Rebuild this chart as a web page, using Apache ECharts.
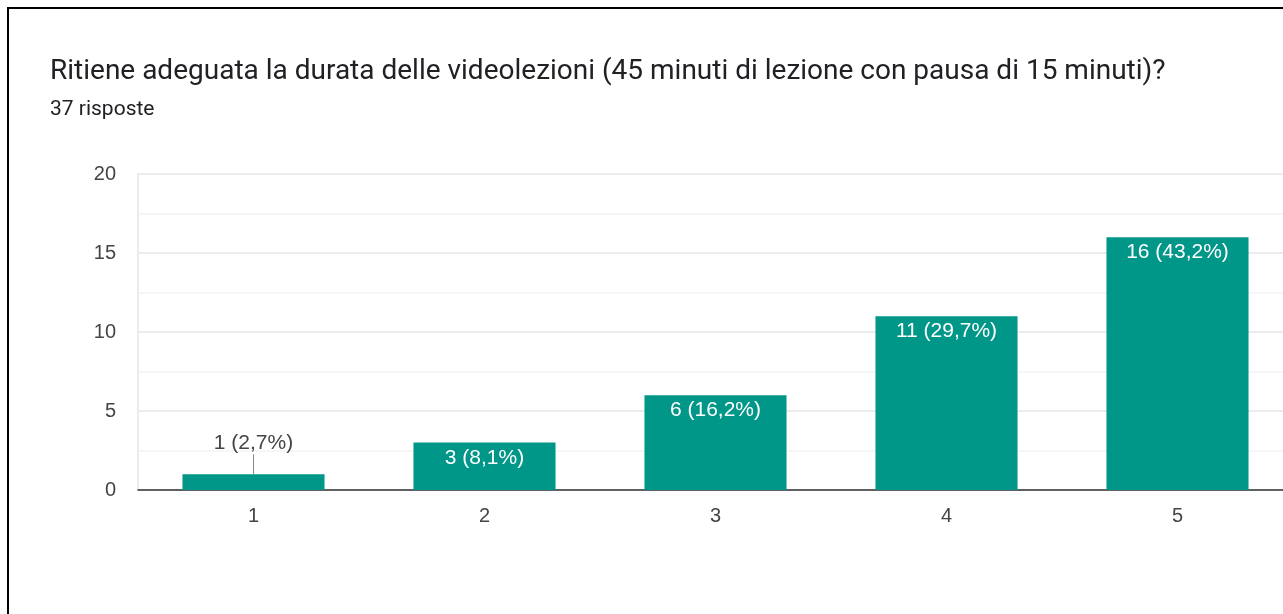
<!DOCTYPE html>
<html>
<head>
<meta charset="utf-8">
<script src="https://cdn.jsdelivr.net/npm/echarts@6/dist/echarts.min.js"></script>
<style>
	html, body { margin: 0; padding: 0; background: #fff; overflow: hidden; width: 1283px; height: 614px; }
	#chart { position: absolute; left: 0; top: 0; width: 1400px; height: 614px; }
	#frame { position: absolute; left: 7px; top: 7px; width: 1400px; height: 700px; border-left: 2px solid #000; border-top: 2px solid #000; pointer-events: none; }
</style>
</head>
<body>
<div id="chart"></div>
<div id="frame"></div>
<script>
// dati del grafico
const categorie = ["1", "2", "3", "4", "5"];
const risposte = [1, 3, 6, 11, 16];
const percentuali = ["2,7%", "8,1%", "16,2%", "29,7%", "43,2%"];
const totale = 37;

const myChart = echarts.init(document.getElementById("chart"));

const datiBarre = risposte.map((v, i) => {
	if (v < 2) {
		// barra troppo bassa: etichetta sopra con linea guida
		return {
			value: v,
			label: { position: "top", distance: 4, color: "#444" },
		};
	}
	return v;
});

const option = {
	animation: false,
	title: [
		{
			text: "Ritiene adeguata la durata delle videolezioni (45 minuti di lezione con pausa di 15 minuti)?",
			left: 45,
			top: 53,
			textStyle: { fontFamily: "Roboto", fontSize: 28, fontWeight: "normal", color: "#202124" },
		},
		{
			text: totale + " risposte",
			left: 45,
			top: 94,
			textStyle: { fontFamily: "Roboto", fontSize: 21, fontWeight: "normal", color: "#202124" },
		},
	],
	grid: { left: 138, top: 174, bottom: 124, right: 107 },
	xAxis: {
		type: "category",
		data: categorie,
		axisTick: { show: false },
		axisLine: { lineStyle: { color: "#333", width: 1.5 } },
		axisLabel: { fontFamily: "Arial", fontSize: 20, color: "#444", margin: 16 },
	},
	yAxis: {
		type: "value",
		min: 0,
		max: 20,
		interval: 5,
		axisLine: { show: true, lineStyle: { color: "#e6e6e6", width: 1.5 } },
		axisLabel: { fontFamily: "Arial", fontSize: 20, color: "#444", margin: 22 },
		splitLine: { lineStyle: { color: "#e6e6e6", width: 1.5 } },
		minorTick: { show: false, splitNumber: 2 },
		minorSplitLine: { show: true, lineStyle: { color: "#f3f3f3", width: 1.5 } },
	},
	series: [
		{
			type: "bar",
			data: datiBarre,
			barWidth: "61.5%",
			itemStyle: { color: "#009688" },
			label: {
				show: true,
				position: "insideTop",
				distance: 5,
				color: "#fff",
				fontFamily: "Arial",
				fontSize: 21,
				formatter: (p) => p.value + " (" + percentuali[p.dataIndex] + ")",
			},
			labelLayout: (p) => (p.dataIndex === 0 ? { dy: -16 } : {}),
			labelLine: { show: true, lineStyle: { color: "#888", width: 1 } },
		},
	],
};

myChart.setOption(option);
</script>
</body>
</html>
